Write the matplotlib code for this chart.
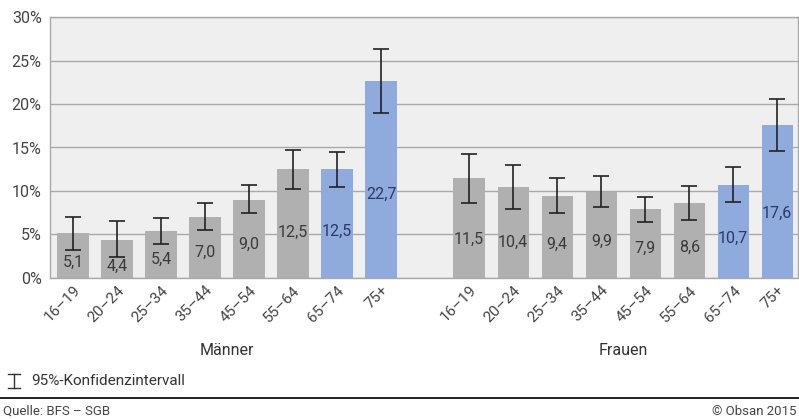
import matplotlib
matplotlib.use("Agg")
import matplotlib.pyplot as plt
from matplotlib.lines import Line2D
from matplotlib.transforms import ScaledTranslation
import numpy as np

plt.rcParams['font.family'] = ['Roboto', 'DejaVu Sans']

age_groups = ["16–19", "20–24", "25–34", "35–44", "45–54", "55–64", "65–74", "75+"]
groups = ["Männer", "Frauen"]

men_values = [5.1, 4.4, 5.4, 7.0, 9.0, 12.5, 12.5, 22.7]
men_ci_low = [3.2, 2.35, 3.85, 5.5, 7.4, 10.2, 10.45, 19.0]
men_ci_high = [7.0, 6.5, 6.9, 8.55, 10.7, 14.75, 14.5, 26.3]

women_values = [11.5, 10.4, 9.4, 9.9, 7.9, 8.6, 10.7, 17.6]
women_ci_low = [8.6, 7.9, 7.4, 8.1, 6.45, 6.7, 8.7, 14.55]
women_ci_high = [14.3, 12.95, 11.5, 11.75, 9.35, 10.55, 12.8, 20.55]

y_ticks = [0, 5, 10, 15, 20, 25, 30]
legend_text = "95%-Konfidenzintervall"
source_text = "Quelle: BFS – SGB"
copyright_text = "© Obsan 2015"

GRAY = "#b0b0b0"
BLUE = "#8faadc"
BG = "#efefef"
TXT = "#444444"

fig = plt.figure(figsize=(7.99, 4.19), dpi=100)
W, H = 799, 419
ax = fig.add_axes([50 / W, (H - 277.7) / H, 748 / W, 260.4 / H])
ax.set_facecolor(BG)

n = len(age_groups)
pos_m = np.arange(n)
pos_w = np.arange(n) + n + 1
positions = np.concatenate([pos_m, pos_w])
values = np.array(men_values + women_values)
lo = np.array(men_ci_low + women_ci_low)
hi = np.array(men_ci_high + women_ci_high)
colors = [BLUE if a in ("65–74", "75+") else GRAY for a in age_groups] * 2

ax.set_axisbelow(True)
ax.yaxis.grid(True, color="#a9a9a9", linewidth=1.0)
ax.bar(positions, values, width=0.71, color=colors, zorder=2)
ax.errorbar(positions, values, yerr=[values - lo, hi - values], fmt="none",
            ecolor="#222222", elinewidth=1.2, capsize=5.5, capthick=1.2, zorder=3)

for p, v, l, c in zip(positions, values, lo, colors):
    tc = "#2b3a67" if c == BLUE else "#3a3a3a"
    ax.text(p, l / 2 + 0.15, f"{v:.1f}".replace(".", ","), ha="center", va="center",
            fontsize=11.5, color=tc, zorder=4)

ax.set_xlim(-0.52, 16.47)
ax.set_ylim(0, 30)
ax.set_yticks(y_ticks)
ax.set_yticklabels([f"{t}%" for t in y_ticks], fontsize=11.5, color=TXT)
ax.set_xticks(positions)
ax.set_xticklabels(age_groups * 2, rotation=45, ha="right", va="top",
                   rotation_mode="anchor", fontsize=11, color=TXT)
off = ScaledTranslation(4 / 100, -4 / 100, fig.dpi_scale_trans)
for lbl in ax.get_xticklabels():
    lbl.set_transform(lbl.get_transform() + off)
ax.tick_params(axis="both", length=0)
ax.tick_params(axis="x", pad=4)
ax.tick_params(axis="y", pad=6)
for s in ax.spines.values():
    s.set_color("#a9a9a9")
    s.set_linewidth(1.0)

# group labels
ax.text(np.mean(pos_m), -8.4, groups[0], ha="center", va="center", fontsize=11.5,
        color="#333333", transform=ax.transData)
ax.text(np.mean(pos_w), -8.4, groups[1], ha="center", va="center", fontsize=11.5,
        color="#333333", transform=ax.transData)

# legend symbol (I-beam) and text
def fx(x):
    return x / W
def fy(y):
    return 1 - y / H
sym_x, y_top, y_bot = 14, 374, 388
fig.add_artist(Line2D([fx(sym_x), fx(sym_x)], [fy(y_top), fy(y_bot)], color="#333333", lw=1.0))
fig.add_artist(Line2D([fx(sym_x - 6), fx(sym_x + 6)], [fy(y_top), fy(y_top)], color="#333333", lw=1.0))
fig.add_artist(Line2D([fx(sym_x - 6), fx(sym_x + 6)], [fy(y_bot), fy(y_bot)], color="#333333", lw=1.0))
fig.text(fx(31), fy(381), legend_text, ha="left", va="center", fontsize=11, color="#333333")

# separator line
fig.add_artist(Line2D([0, 1], [fy(398), fy(398)], color="#111111", lw=1.3))
fig.text(fx(3), fy(411), source_text, ha="left", va="center", fontsize=9.5, color=TXT)
fig.text(fx(796), fy(411), copyright_text, ha="right", va="center", fontsize=9.5, color=TXT)

fig.savefig("out.png", dpi=100, facecolor="white")
